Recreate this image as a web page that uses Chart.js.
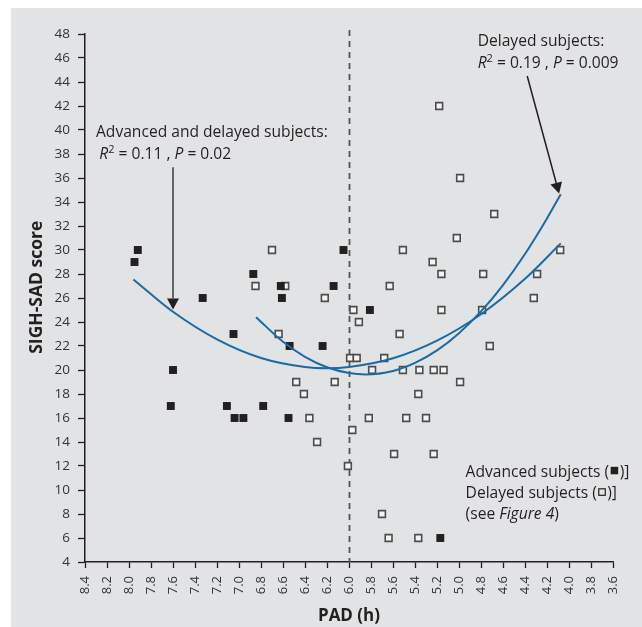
<!DOCTYPE html>
<html>
<head>
<meta charset="utf-8">
<script src="https://cdn.jsdelivr.net/npm/chart.js@4"></script>
<style>
  body { margin: 0; background: #fff; }
  canvas { display: block; }
</style>
</head>
<body>
<canvas id="padChart" width="642" height="627"></canvas>
<script>
// advanced subjects (filled squares)
const advX = [7.95, 7.92, 7.60, 7.62, 7.33, 7.11, 7.05, 7.04, 6.96, 6.87, 6.78, 6.62, 6.61, 6.54, 6.55, 6.24, 6.14, 6.05, 5.81, 5.17];
const advY = [29, 30, 20, 17, 26, 17, 23, 16, 16, 28, 17, 27, 26, 22, 16, 22, 27, 30, 25, 6];

// delayed subjects (open squares)
const delX = [6.70, 6.85, 6.58, 6.64, 6.48, 6.41, 6.36, 6.29, 6.22, 6.13, 6.01, 5.99, 5.93, 5.96, 5.91, 5.97,
              5.79, 5.82, 5.70, 5.68, 5.63, 5.64, 5.59, 5.54, 5.51, 5.51, 5.48, 5.37, 5.36, 5.37, 5.30, 5.24,
              5.23, 5.23, 5.18, 5.16, 5.16, 5.14, 5.02, 4.99, 4.99, 4.79, 4.78, 4.72, 4.68, 4.32, 4.29, 4.08];
const delY = [30, 27, 27, 23, 19, 18, 16, 14, 26, 19, 12, 21, 21, 25, 24, 15,
              20, 16, 8, 21, 27, 6, 13, 23, 30, 20, 16, 18, 20, 6, 16, 29,
              13, 20, 42, 28, 25, 20, 31, 36, 19, 25, 28, 22, 33, 26, 28, 30];

// fitted curves
const fitAllX = [7.96, 7.6, 7.2, 6.8, 6.4, 6.2, 6.0, 5.6, 5.2, 4.8, 4.4, 4.075];
const fitAllY = [27.55, 24.85, 22.55, 21.0, 20.25, 20.15, 20.25, 20.98, 22.45, 24.65, 27.6, 30.55];
const fitDelX = [6.845, 6.6, 6.4, 6.2, 6.0, 5.85, 5.6, 5.4, 5.2, 5.0, 4.8, 4.6, 4.4, 4.2, 4.075];
const fitDelY = [24.4, 22.35, 21.1, 20.23, 19.75, 19.63, 19.92, 20.59, 21.63, 23.07, 24.88, 27.08, 29.67, 32.63, 34.65];

// axis ticks
const xTicks = [3.6, 3.8, 4.0, 4.2, 4.4, 4.6, 4.8, 5.0, 5.2, 5.4, 5.6, 5.8, 6.0, 6.2, 6.4, 6.6, 6.8, 7.0, 7.2, 7.4, 7.6, 7.8, 8.0, 8.2, 8.4];
const yTicks = [4, 6, 8, 10, 12, 14, 16, 18, 20, 22, 24, 26, 28, 30, 32, 34, 36, 38, 40, 42, 44, 46, 48];

const FONT = '"Open Sans", "Noto Sans", sans-serif';
const INK = "#231f20";
const toPts = (xs, ys) => xs.map((x, i) => ({ x: x, y: ys[i] }));

// draw a line of mixed fonts (italic R, superscript 2 ...)
function drawRich(ctx, x, y, parts) {
  ctx.textBaseline = "alphabetic";
  ctx.textAlign = "left";
  parts.forEach((p) => {
    if (p.box) {
      const s = 7.5;
      ctx.lineWidth = 1.2;
      if (p.box === "filled") {
        ctx.fillStyle = INK;
        ctx.fillRect(x + 1.5, y - 10, s, s);
      } else {
        ctx.strokeStyle = INK;
        ctx.strokeRect(x + 2, y - 9.5, s - 1, s - 1);
      }
      x += s + 3;
      return;
    }
    ctx.font = p.font;
    ctx.fillStyle = INK;
    ctx.fillText(p.t, x, y + (p.dy || 0));
    x += ctx.measureText(p.t).width;
  });
}

function arrow(ctx, x1, y1, x2, y2, color, width) {
  const ang = Math.atan2(y2 - y1, x2 - x1);
  const headLen = 11, headW = 6;
  const bx = x2 - headLen * Math.cos(ang), by = y2 - headLen * Math.sin(ang);
  ctx.strokeStyle = color;
  ctx.lineWidth = width;
  ctx.beginPath();
  ctx.moveTo(x1, y1);
  ctx.lineTo(bx, by);
  ctx.stroke();
  ctx.fillStyle = INK;
  ctx.beginPath();
  ctx.moveTo(x2, y2);
  ctx.lineTo(bx + headW * Math.sin(ang), by - headW * Math.cos(ang));
  ctx.lineTo(bx - headW * Math.sin(ang), by + headW * Math.cos(ang));
  ctx.closePath();
  ctx.fill();
}

const panelBg = {
  id: "panelBg",
  beforeDraw(chart) {
    const ctx = chart.ctx;
    ctx.save();
    ctx.fillStyle = "#ffffff";
    ctx.fillRect(0, 0, chart.width, chart.height);
    ctx.fillStyle = "#e2e3e5";
    ctx.fillRect(11, 8, chart.width - 11, chart.height - 8);
    ctx.restore();
  },
  beforeDatasetsDraw(chart) {
    // dashed line at PAD = 6.0
    const ctx = chart.ctx, xs = chart.scales.x, area = chart.chartArea;
    const px = Math.round(xs.getPixelForValue(6.0)) + 0.5;
    ctx.save();
    ctx.strokeStyle = "#555";
    ctx.lineWidth = 1.8;
    ctx.setLineDash([6, 5]);
    ctx.beginPath();
    ctx.moveTo(px, area.top - 4);
    ctx.lineTo(px, area.bottom);
    ctx.stroke();
    ctx.restore();
  },
  afterDatasetsDraw(chart) {
    const ctx = chart.ctx, xs = chart.scales.x, ys = chart.scales.y;
    const X = (v) => xs.getPixelForValue(v), Y = (v) => ys.getPixelForValue(v);
    const base = "15.6px " + FONT, ital = "italic 15.6px " + FONT, sup = "11px " + FONT;
    ctx.save();

    // y axis title, sits a little above the middle of the axis
    ctx.save();
    ctx.translate(37, Y(26.9));
    ctx.rotate(-Math.PI / 2);
    ctx.font = "bold 17.5px " + FONT;
    ctx.fillStyle = INK;
    ctx.textAlign = "center";
    ctx.textBaseline = "middle";
    ctx.fillText("SIGH-SAD score", 0, 0);
    ctx.restore();

    // arrows
    arrow(ctx, X(7.6), Y(36.9), X(7.6), Y(25.05), "#666", 2);
    arrow(ctx, X(4.38), Y(44.5), X(4.09), Y(34.7), INK, 1.5);

    // advanced + delayed label
    drawRich(ctx, X(8.3), Y(39.4), [{ t: "Advanced and delayed subjects:", font: base }]);
    drawRich(ctx, X(8.27), Y(39.4) + 22, [
      { t: "R", font: ital }, { t: "2", font: sup, dy: -6.5 },
      { t: " = 0.11 , ", font: base }, { t: "P", font: ital }, { t: " = 0.02", font: base }
    ]);

    // delayed label
    drawRich(ctx, X(4.83), Y(47.0), [{ t: "Delayed subjects:", font: base }]);
    drawRich(ctx, X(4.83), Y(47.0) + 22, [
      { t: "R", font: ital }, { t: "2", font: sup, dy: -6.5 },
      { t: " = 0.19 , ", font: base }, { t: "P", font: ital }, { t: " = 0.009", font: base }
    ]);

    // key
    drawRich(ctx, X(4.94), Y(11.1), [{ t: "Advanced subjects (", font: base }, { box: "filled" }, { t: ")]", font: base }]);
    drawRich(ctx, X(4.94), Y(11.1) + 21.5, [{ t: "Delayed subjects (", font: base }, { box: "open" }, { t: ")]", font: base }]);
    drawRich(ctx, X(4.94), Y(11.1) + 42.5, [{ t: "(see ", font: base }, { t: "Figure 4", font: ital }, { t: ")", font: base }]);
    ctx.restore();
  }
};

new Chart(document.getElementById("padChart"), {
  type: "scatter",
  data: {
    datasets: [
      {
        label: "Advanced and delayed fit",
        data: toPts(fitAllX, fitAllY),
        showLine: true,
        borderColor: "#1a6aa6",
        borderWidth: 2,
        pointRadius: 0,
        cubicInterpolationMode: "monotone",
        order: 0,
      },
      {
        label: "Delayed fit",
        data: toPts(fitDelX, fitDelY),
        showLine: true,
        borderColor: "#1a6aa6",
        borderWidth: 2,
        pointRadius: 0,
        cubicInterpolationMode: "monotone",
        order: 0,
      },
      {
        label: "Advanced subjects",
        data: toPts(advX, advY),
        pointStyle: "rect",
        pointRadius: 5.6,
        backgroundColor: INK,
        borderWidth: 0,
        order: 1,
      },
      {
        label: "Delayed subjects",
        data: toPts(delX, delY),
        pointStyle: "rect",
        pointRadius: 4.8,
        backgroundColor: "#f4f4f4",
        borderColor: "#4d4d4d",
        borderWidth: 1.6,
        order: 2,
      },
    ],
  },
  options: {
    responsive: false,
    animation: false,
    devicePixelRatio: 1,
    layout: { padding: { left: 11, top: 34, right: 29, bottom: 0 } },
    plugins: { legend: { display: false }, tooltip: { enabled: false } },
    scales: {
      x: {
        type: "linear",
        reverse: true,
        min: 3.6,
        max: 8.4,
        afterBuildTicks: (s) => { s.ticks = xTicks.map((v) => ({ value: v })); },
        afterFit: (s) => { s.height = 65; },
        grid: { drawOnChartArea: false, tickLength: 6, tickColor: INK, tickWidth: 1.3 },
        border: { color: INK, width: 1.5 },
        ticks: {
          autoSkip: false,
          minRotation: 90,
          maxRotation: 90,
          padding: 8,
          color: "#333",
          font: { family: FONT, size: 13 },
          callback: (v) => Number(v).toFixed(1),
        },
        title: {
          display: true,
          text: "PAD (h)",
          color: INK,
          font: { family: FONT, size: 17, weight: "bold" },
          padding: { top: 0, bottom: 1 },
        },
      },
      y: {
        min: 4,
        max: 48,
        afterBuildTicks: (s) => { s.ticks = yTicks.map((v) => ({ value: v })); },
        afterFit: (s) => { s.width = 74; },
        grid: { drawOnChartArea: false, tickLength: 7, tickColor: INK, tickWidth: 1.3 },
        border: { color: INK, width: 1.5 },
        ticks: {
          padding: 8,
          color: "#333",
          font: { family: FONT, size: 13.5 },
        },
        title: { display: false },
      },
    },
  },
  plugins: [panelBg],
});
</script>
</body>
</html>
